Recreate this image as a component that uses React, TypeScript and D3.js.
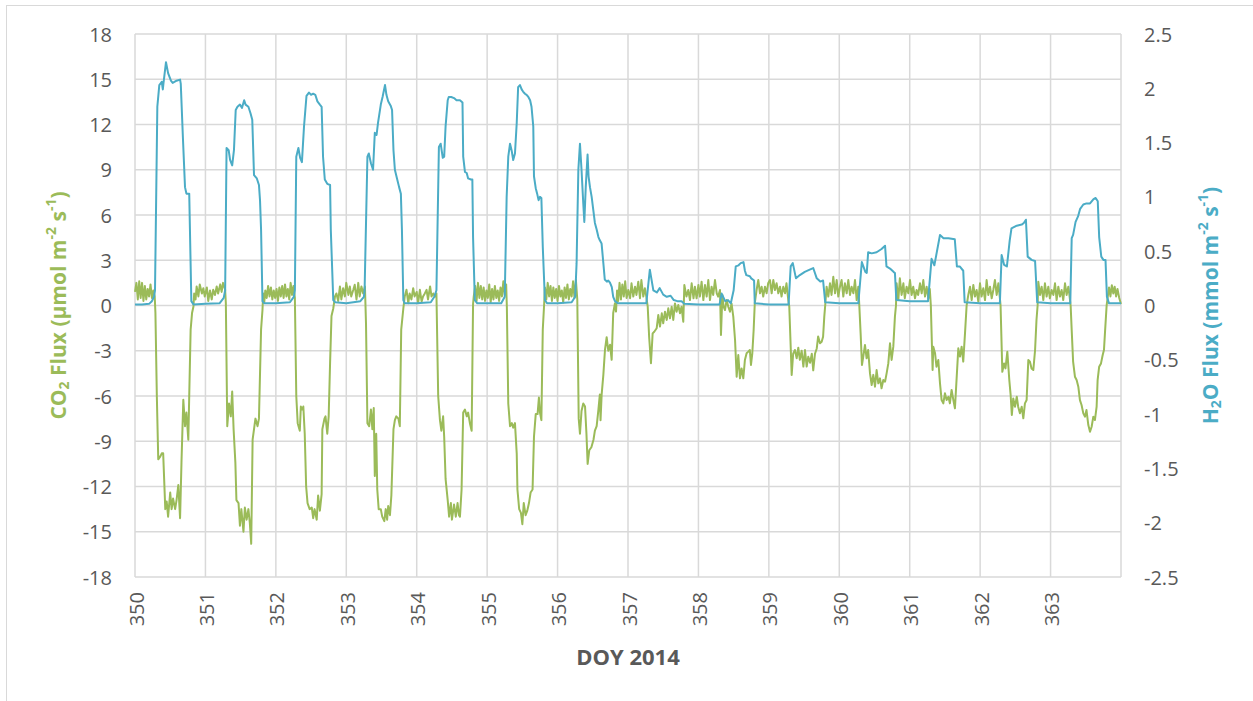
import React, { useEffect, useRef } from "react";
import * as d3 from "d3";

// CO2 flux, µmol m-2 s-1 as [DOY, value]
const CO2: [number, number][] = [
  [350.00,0.9],[350.02,1.5],[350.04,0.4],[350.06,1.6],[350.08,0.5],[350.10,1.5],[350.12,0.3],[350.14,1.3],[350.16,0.4],[350.18,1.1],[350.20,0.6],[350.22,1.4],[350.24,0.5],[350.26,1.0],[350.28,0.6],
  [350.29,-0.5],[350.31,-6.0],[350.33,-10.2],[350.36,-10.0],[350.38,-9.8],[350.40,-9.8],[350.43,-13.5],[350.45,-13.0],[350.47,-14.0],[350.50,-12.4],[350.52,-13.5],[350.54,-12.8],[350.57,-13.5],[350.59,-12.9],[350.615,-11.9],[350.64,-14.1],[350.66,-10.4],[350.686,-6.25],[350.71,-8.0],[350.73,-7.1],[350.757,-8.9],[350.77,-6.0],[350.79,-1.6],[350.81,-0.5],
  [350.83,-0.07],[350.84,0.8],[350.86,0.4],[350.875,1.26],[350.90,0.6],[350.92,1.4],[350.95,0.8],[350.97,1.15],[350.99,0.6],[351.02,1.2],[351.04,0.3],[351.065,1.0],[351.09,0.4],[351.11,1.04],[351.135,0.7],[351.16,1.26],[351.18,0.8],[351.21,1.4],[351.23,0.9],[351.25,1.5],[351.28,1.04],
  [351.29,0.15],[351.31,-8.0],[351.335,-6.5],[351.36,-7.35],[351.38,-5.7],[351.40,-8.2],[351.425,-10.4],[351.44,-12.9],[351.47,-13.1],[351.49,-14.6],[351.51,-13.5],[351.54,-15.0],[351.56,-13.4],[351.585,-14.2],[351.61,-13.5],[351.63,-14.4],[351.65,-15.8],[351.67,-8.9],[351.69,-8.2],[351.71,-7.5],[351.74,-8.0],[351.76,-7.5],[351.79,-1.6],[351.81,-0.3],
  [351.82,0.8],[351.835,0.2],[351.85,1.0],[351.87,0.5],[351.89,1.3],[351.91,0.6],[351.93,1.2],[351.95,0.4],[351.97,1.0],[351.99,0.5],[352.01,1.1],[352.03,0.3],[352.05,1.2],[352.07,0.6],[352.09,1.3],[352.11,0.5],[352.13,1.4],[352.15,0.6],[352.17,1.1],[352.19,0.4],[352.21,1.5],[352.23,0.7],[352.25,1.3],[352.27,0.5],
  [352.29,-6.0],[352.31,-7.8],[352.34,-8.3],[352.355,-6.7],[352.375,-6.9],[352.39,-6.7],[352.41,-8.5],[352.43,-12.0],[352.45,-13.1],[352.48,-13.5],[352.51,-13.4],[352.53,-14.1],[352.55,-13.5],[352.58,-14.2],[352.60,-12.6],[352.625,-13.6],[352.65,-12.5],[352.66,-8.2],[352.69,-7.5],[352.705,-7.35],[352.73,-8.5],[352.75,-7.35],[352.77,-3.8],[352.79,-0.7],[352.815,-0.2],
  [352.84,0.6],[352.86,0.8],[352.885,0.3],[352.91,1.26],[352.93,0.4],[352.955,1.15],[352.98,0.6],[353.00,1.5],[353.03,0.7],[353.05,1.26],[353.07,0.6],[353.10,1.04],[353.12,1.37],[353.145,0.4],[353.17,1.5],[353.19,0.6],[353.215,1.26],[353.24,0.8],[353.265,1.26],
  [353.28,-1.2],[353.30,-7.8],[353.325,-8.0],[353.35,-6.9],[353.37,-8.2],[353.39,-6.8],[353.405,-11.3],[353.425,-8.5],[353.44,-12.2],[353.46,-13.5],[353.49,-13.5],[353.51,-14.0],[353.54,-14.3],[353.56,-13.5],[353.58,-14.2],[353.595,-13.3],[353.62,-13.9],[353.64,-12.6],[353.67,-8.2],[353.69,-7.6],[353.71,-7.35],[353.74,-7.5],[353.76,-8.0],[353.78,-1.6],[353.81,-0.2],
  [353.83,0.6],[353.855,1.04],[353.88,0.15],[353.90,0.8],[353.925,0.4],[353.95,1.15],[353.97,0.6],[354.00,0.9],[354.02,0.15],[354.045,1.04],[354.07,0.26],[354.09,0.6],[354.115,0.8],[354.14,1.04],[354.16,0.4],[354.19,1.26],[354.21,0.6],[354.235,0.8],[354.26,0.6],[354.28,0.8],
  [354.305,-6.0],[354.33,-7.6],[354.35,-8.3],[354.375,-7.35],[354.39,-8.7],[354.41,-11.5],[354.44,-12.9],[354.46,-14.0],[354.485,-13.1],[354.50,-14.2],[354.53,-13.2],[354.555,-14.0],[354.58,-13.1],[354.60,-13.9],[354.614,-14.0],[354.637,-12.2],[354.66,-7.1],[354.685,-6.9],[354.71,-7.35],[354.73,-7.1],[354.755,-7.8],[354.78,-8.3],[354.80,0.1],
  [354.81,0.6],[354.83,1.3],[354.85,0.3],[354.87,1.5],[354.89,0.5],[354.91,1.3],[354.93,0.4],[354.95,1.2],[354.97,0.3],[354.99,1.0],[355.01,0.5],[355.03,1.4],[355.05,0.2],[355.07,1.1],[355.09,0.4],[355.11,1.3],[355.13,0.5],[355.15,1.0],[355.17,0.3],[355.19,1.2],[355.21,0.6],[355.23,1.6],[355.25,0.7],[355.27,1.4],
  [355.28,-0.1],[355.30,-6.5],[355.325,-8.0],[355.35,-7.8],[355.37,-8.1],[355.395,-7.8],[355.42,-9.8],[355.43,-12.2],[355.455,-13.5],[355.48,-13.75],[355.50,-14.5],[355.52,-13.1],[355.546,-13.9],[355.57,-13.6],[355.594,-13.1],[355.617,-12.4],[355.645,-12.2],[355.665,-8.7],[355.69,-7.2],[355.716,-7.2],[355.735,-6.1],[355.75,-7.1],[355.77,-7.6],[355.79,-1.6],[355.81,0.15],
  [355.82,1.2],[355.84,0.4],[355.86,1.5],[355.88,0.6],[355.90,1.3],[355.92,0.3],[355.94,1.2],[355.96,0.5],[355.98,1.1],[356.00,0.3],[356.02,1.3],[356.04,0.6],[356.06,1.0],[356.08,0.2],[356.10,1.2],[356.12,0.5],[356.14,1.4],[356.16,0.4],[356.18,1.1],[356.20,0.6],[356.22,1.6],[356.24,0.5],[356.26,1.7],
  [356.28,0.4],[356.30,-7.5],[356.318,-8.5],[356.34,-7.0],[356.365,-6.5],[356.39,-6.7],[356.41,-8.5],[356.427,-10.5],[356.45,-9.6],[356.48,-9.4],[356.51,-8.9],[356.53,-8.3],[356.555,-8.0],[356.58,-6.9],[356.60,-5.9],[356.61,-7.6],[356.626,-5.9],[356.65,-4.6],[356.673,-2.95],[356.697,-2.1],[356.72,-3.0],[356.745,-2.6],[356.768,-3.6],[356.79,-0.5],[356.815,0.15],
  [356.83,-0.4],[356.845,1.0],[356.86,0.3],[356.88,1.5],[356.90,0.4],[356.92,1.4],[356.94,0.6],[356.96,1.6],[356.98,0.5],[357.004,1.03],[357.03,0.48],[357.05,1.47],[357.075,0.59],[357.10,1.25],[357.12,0.7],[357.146,1.58],[357.17,0.48],[357.19,1.69],[357.217,0.59],[357.24,1.14],[357.26,0.59],
  [357.28,-0.08],[357.30,-2.07],[357.326,-3.83],[357.35,-1.85],[357.373,-1.74],[357.407,-1.51],[357.43,-0.63],[357.454,-1.4],[357.48,-0.52],[357.50,-1.18],[357.525,-0.41],[357.55,-0.96],[357.572,-0.19],[357.596,-0.85],[357.62,-0.08],[357.643,-0.96],[357.667,0.14],[357.69,-0.41],[357.714,0.03],[357.738,-0.52],[357.76,-0.08],[357.785,-1.07],
  [357.80,1.36],[357.83,0.59],[357.856,1.03],[357.88,0.36],[357.904,1.47],[357.93,0.48],[357.95,1.25],[357.974,0.48],[358.00,1.36],[358.02,0.59],[358.045,1.58],[358.07,0.36],[358.093,1.36],[358.117,0.59],[358.14,1.69],[358.164,0.36],[358.187,1.25],[358.21,0.7],[358.235,1.69],[358.26,0.81],[358.28,0.59],[358.306,1.03],
  [358.32,-1.96],[358.34,0.7],[358.357,-0.08],[358.377,-0.3],[358.40,0.36],[358.424,-0.08],[358.448,-0.41],[358.47,0.14],[358.495,-0.74],[358.52,-2.29],[358.543,-4.72],[358.566,-3.28],[358.59,-4.83],[358.613,-4.17],[358.637,-4.83],[358.66,-3.61],[358.684,-3.17],[358.708,-3.06],[358.73,-2.95],[358.746,-3.94],[358.765,-3.17],[358.784,-1.62],[358.80,0.14],
  [358.826,1.03],[358.85,1.69],[358.874,0.81],[358.897,1.25],[358.92,0.59],[358.945,1.25],[358.968,0.81],[358.99,1.47],[359.016,1.69],[359.04,0.81],[359.063,1.69],[359.087,1.03],[359.11,1.47],[359.134,0.81],[359.158,1.25],[359.18,0.59],[359.205,1.25],[359.23,0.81],[359.25,1.47],[359.276,0.36],
  [359.29,-0.08],[359.31,-2.73],[359.324,-4.6],[359.345,-3.2],[359.37,-2.95],[359.395,-3.5],[359.418,-2.8],[359.44,-3.6],[359.466,-3.0],[359.49,-4.05],[359.513,-2.95],[359.537,-4.05],[359.56,-3.4],[359.585,-3.8],[359.61,-3.2],[359.63,-4.3],[359.655,-3.2],[359.68,-2.85],[359.70,-2.05],[359.726,-2.5],[359.75,-2.4],[359.77,-2.07],[359.787,-0.74],[359.80,0.0],
  [359.82,1.25],[359.844,0.59],[359.868,1.47],[359.89,0.7],[359.915,1.9],[359.94,0.81],[359.963,1.69],[359.986,0.59],[360.01,1.25],[360.033,1.69],[360.057,0.59],[360.08,1.47],[360.105,0.81],[360.128,1.69],[360.152,0.7],[360.175,1.25],[360.2,0.81],[360.223,1.69],[360.247,0.36],[360.27,1.25],
  [360.284,0.03],[360.303,-1.85],[360.322,-3.95],[360.34,-3.4],[360.365,-2.62],[360.388,-3.5],[360.41,-2.95],[360.436,-4.5],[360.46,-5.27],[360.483,-4.6],[360.507,-5.38],[360.53,-4.28],[360.554,-5.16],[360.578,-4.83],[360.60,-5.49],[360.625,-4.94],[360.65,-5.05],[360.672,-4.5],[360.696,-3.84],[360.72,-2.51],[360.743,-3.61],[360.767,-2.73],[360.79,-0.74],[360.805,0.0],
  [360.814,1.47],[360.838,0.36],[360.86,1.8],[360.885,0.7],[360.91,1.47],[360.93,0.48],[360.956,1.25],[360.98,0.81],[361.004,1.69],[361.027,0.7],[361.05,1.25],[361.075,0.48],[361.098,1.03],[361.12,0.7],[361.146,1.47],[361.17,0.81],[361.193,1.69],[361.217,0.59],[361.24,1.25],[361.264,0.48],[361.285,1.1],
  [361.30,0.0],[361.325,-4.28],[361.335,-2.73],[361.36,-3.17],[361.38,-4.06],[361.406,-3.61],[361.43,-5.16],[361.453,-6.27],[361.477,-6.49],[361.50,-5.82],[361.524,-6.27],[361.55,-6.05],[361.57,-6.49],[361.595,-5.6],[361.62,-6.27],[361.642,-6.82],[361.666,-4.83],[361.69,-2.84],[361.714,-3.39],[361.737,-2.73],[361.76,-3.72],[361.785,-1.85],[361.808,0.0],
  [361.832,0.7],[361.856,1.25],[361.88,0.36],[361.903,1.36],[361.927,0.59],[361.95,1.03],[361.974,0.25],[361.998,1.47],[362.02,0.59],[362.045,1.14],[362.069,0.36],[362.092,1.69],[362.116,0.7],[362.14,1.25],[362.164,0.48],[362.187,1.03],[362.21,1.69],[362.235,0.7],[362.258,1.47],[362.28,0.5],
  [362.29,0.0],[362.315,-4.4],[362.34,-3.84],[362.36,-4.17],[362.386,-3.06],[362.414,-4.94],[362.433,-5.93],[362.45,-7.26],[362.47,-6.16],[362.495,-6.71],[362.52,-6.05],[362.54,-6.71],[362.565,-7.15],[362.59,-6.71],[362.613,-7.48],[362.636,-6.49],[362.66,-6.27],[362.684,-3.61],[362.707,-3.72],[362.73,-4.17],[362.755,-4.28],[362.78,-2.95],[362.80,-0.96],[362.816,0.0],
  [362.826,1.58],[362.85,0.7],[362.873,1.25],[362.897,0.36],[362.92,1.47],[362.944,0.59],[362.968,1.25],[362.99,0.48],[363.015,1.03],[363.04,0.7],[363.063,1.47],[363.086,0.36],[363.11,1.25],[363.134,0.59],[363.157,1.03],[363.18,0.36],[363.205,1.47],[363.228,0.7],[363.252,1.25],[363.27,0.6],
  [363.285,0.0],[363.30,-1.63],[363.32,-3.72],[363.346,-4.72],[363.37,-4.94],[363.394,-5.38],[363.417,-6.27],[363.44,-6.6],[363.465,-7.15],[363.488,-7.37],[363.51,-6.93],[363.536,-7.93],[363.56,-8.37],[363.583,-8.04],[363.607,-7.37],[363.63,-7.59],[363.654,-6.71],[363.668,-4.94],[363.69,-4.06],[363.716,-3.84],[363.74,-3.28],[363.758,-2.95],[363.772,-1.85],[363.796,0.0],
  [363.81,0.5],[363.83,1.2],[363.85,0.6],[363.87,1.35],[363.89,0.8],[363.91,1.25],[363.93,0.6],[363.95,1.1],[363.975,0.5],[364.0,0.1],
];

// H2O flux, mmol m-2 s-1, [DOY, value]
const H2O: [number, number][] = [
  [350.00,0.01],[350.10,0.01],[350.20,0.015],[350.24,0.04],[350.27,0.08],[350.284,0.14],[350.317,1.83],[350.345,2.03],[350.38,2.06],[350.395,1.99],[350.405,2.05],[350.44,2.24],[350.47,2.14],[350.51,2.07],[350.535,2.05],[350.59,2.07],[350.64,2.08],[350.65,2.04],[350.68,1.55],[350.71,1.09],[350.73,1.03],[350.77,1.03],[350.78,0.70],[350.80,0.04],[350.83,0.01],
  [351.0,0.015],[351.2,0.02],[351.26,0.07],
  [351.28,0.14],[351.30,1.45],[351.33,1.43],[351.35,1.34],[351.38,1.29],[351.405,1.43],[351.43,1.80],[351.455,1.83],[351.49,1.85],[351.52,1.82],[351.55,1.89],[351.57,1.85],[351.61,1.83],[351.64,1.77],[351.665,1.71],[351.69,1.20],[351.73,1.17],[351.76,1.11],[351.775,0.97],[351.79,0.70],[351.81,0.04],[351.835,0.02],
  [352.0,0.02],[352.2,0.03],[352.255,0.08],
  [352.27,0.14],[352.29,1.37],[352.32,1.45],[352.345,1.36],[352.37,1.32],[352.40,1.65],[352.435,1.93],[352.47,1.96],[352.50,1.94],[352.53,1.95],[352.56,1.94],[352.59,1.88],[352.625,1.85],[352.65,1.83],[352.67,1.37],[352.695,1.16],[352.73,1.12],[352.77,1.11],[352.78,0.70],[352.815,0.05],[352.84,0.03],
  [353.0,0.02],[353.2,0.04],[353.25,0.08],
  [353.26,0.14],[353.30,1.37],[353.32,1.40],[353.35,1.31],[353.38,1.25],[353.405,1.59],[353.43,1.57],[353.45,1.68],[353.49,1.85],[353.515,1.92],[353.55,2.03],[353.57,1.94],[353.595,1.88],[353.63,1.84],[353.65,1.80],[353.67,1.43],[353.69,1.25],[353.72,1.17],[353.75,1.09],[353.775,1.03],[353.79,0.70],[353.81,0.05],[353.83,0.02],
  [354.0,0.02],[354.2,0.03],[354.25,0.08],
  [354.28,0.14],[354.315,1.46],[354.34,1.49],[354.37,1.36],[354.39,1.37],[354.41,1.65],[354.44,1.89],[354.455,1.92],[354.49,1.92],[354.53,1.91],[354.565,1.89],[354.614,1.89],[354.65,1.87],[354.66,1.37],[354.685,1.23],[354.71,1.22],[354.73,1.17],[354.77,1.16],[354.79,1.16],[354.80,0.63],[354.825,0.05],[354.86,0.02],
  [355.0,0.02],[355.2,0.02],[355.25,0.08],
  [355.277,1.0],[355.30,1.37],[355.325,1.49],[355.35,1.42],[355.37,1.34],[355.395,1.40],[355.42,1.68],[355.44,2.01],[355.466,2.03],[355.49,1.99],[355.51,1.97],[355.537,1.95],[355.56,1.94],[355.585,1.92],[355.61,1.89],[355.63,1.83],[355.655,1.65],[355.665,1.19],[355.69,1.08],[355.71,1.03],[355.73,0.97],[355.75,1.0],[355.77,0.99],[355.79,0.54],[355.82,0.05],[355.85,0.02],
  [356.0,0.02],[356.2,0.03],[356.25,0.08],
  [356.27,0.39],[356.295,1.25],[356.318,1.49],[356.34,1.25],[356.365,0.94],[356.38,0.77],[356.40,1.09],[356.426,1.39],[356.44,1.19],[356.46,1.09],[356.484,1.0],[356.507,0.88],[356.53,0.76],[356.555,0.70],[356.58,0.63],[356.60,0.60],[356.625,0.57],[356.65,0.39],[356.67,0.24],[356.70,0.22],[356.72,0.23],[356.744,0.21],[356.77,0.17],[356.79,0.08],[356.815,0.04],[356.86,0.02],
  [357.0,0.02],[357.26,0.02],
  [357.31,0.33],[357.36,0.14],[357.41,0.12],[357.45,0.16],[357.50,0.10],[357.55,0.08],[357.605,0.09],[357.65,0.05],[357.70,0.04],[357.76,0.04],[357.80,0.015],
  [358.0,0.01],[358.30,0.01],
  [358.33,0.11],[358.38,0.04],[358.42,0.05],[358.46,0.02],[358.50,0.14],[358.53,0.36],[358.57,0.37],[358.60,0.39],[358.64,0.40],[358.66,0.32],[358.68,0.28],[358.73,0.27],[358.75,0.25],[358.79,0.23],[358.80,0.02],
  [359.0,0.01],[359.28,0.01],
  [359.31,0.36],[359.34,0.39],[359.385,0.25],[359.44,0.28],[359.51,0.31],[359.58,0.33],[359.63,0.345],[359.68,0.25],[359.73,0.22],[359.77,0.23],[359.80,0.03],
  [360.0,0.02],[360.27,0.02],
  [360.32,0.40],[360.37,0.31],[360.39,0.30],[360.41,0.49],[360.46,0.48],[360.53,0.49],[360.60,0.52],[360.65,0.55],[360.67,0.36],[360.72,0.34],[360.77,0.31],[360.79,0.30],[360.81,0.05],
  [361.0,0.04],[361.26,0.04],
  [361.31,0.43],[361.33,0.40],[361.35,0.37],[361.43,0.65],[361.48,0.62],[361.55,0.62],[361.64,0.61],[361.67,0.36],[361.71,0.36],[361.76,0.32],[361.78,0.03],
  [362.0,0.02],[362.28,0.02],
  [362.305,0.465],[362.34,0.375],[362.38,0.36],[362.42,0.60],[362.445,0.71],[362.52,0.735],[362.59,0.745],[362.62,0.76],[362.65,0.79],[362.675,0.45],[362.73,0.42],[362.78,0.41],[362.81,0.03],
  [363.0,0.02],[363.28,0.02],
  [363.30,0.62],[363.32,0.65],[363.355,0.77],[363.39,0.82],[363.42,0.89],[363.465,0.93],[363.51,0.94],[363.56,0.94],[363.61,0.98],[363.64,0.99],[363.67,0.96],[363.69,0.63],[363.72,0.45],[363.75,0.42],[363.78,0.42],[363.80,0.08],[363.83,0.02],[364.0,0.02],
];

const X_TICKS = [350, 351, 352, 353, 354, 355, 356, 357, 358, 359, 360, 361, 362, 363];
const X_GRID = [350, 351, 352, 353, 354, 355, 356, 357, 358, 359, 360, 361, 362, 363, 364];
const CO2_TICKS = [18, 15, 12, 9, 6, 3, 0, -3, -6, -9, -12, -15, -18];
const H2O_TICKS = [2.5, 2, 1.5, 1, 0.5, 0, -0.5, -1, -1.5, -2, -2.5];

const W = 1253, H = 701;
const plot = { left: 135, right: 1121, top: 34, bottom: 577 };
const GREEN = "#9BBB59", BLUE = "#4BACC6", GRID = "#D9D9D9", TXT = "#595959";
const FONT = "'Open Sans', 'Noto Sans', sans-serif";

export default function App() {
  const ref = useRef<SVGSVGElement>(null);

  useEffect(() => {
    const svg = d3.select(ref.current);
    svg.selectAll("*").remove();

    const x = d3.scaleLinear().domain([350, 364]).range([plot.left, plot.right]);
    const yL = d3.scaleLinear().domain([-18, 18]).range([plot.bottom, plot.top]);
    const yR = d3.scaleLinear().domain([-2.5, 2.5]).range([plot.bottom, plot.top]);

    svg.append("rect").attr("width", W).attr("height", H).attr("fill", "#fff");
    svg.append("rect")
      .attr("x", 6.5).attr("y", 5.5).attr("width", 1300).attr("height", 800)
      .attr("fill", "none").attr("stroke", GRID).attr("stroke-width", 1);

    // grid
    const grid = svg.append("g").attr("stroke", GRID).attr("stroke-width", 1.5);
    grid.selectAll("line.h").data(CO2_TICKS).join("line")
      .attr("x1", plot.left).attr("x2", plot.right)
      .attr("y1", d => yL(d)).attr("y2", d => yL(d));
    grid.selectAll("line.v").data(X_GRID).join("line")
      .attr("class", "v")
      .attr("x1", d => x(d)).attr("x2", d => x(d))
      .attr("y1", plot.top).attr("y2", plot.bottom);

    // tick labels
    svg.append("g").selectAll("text").data(CO2_TICKS).join("text")
      .attr("x", 112).attr("y", d => yL(d))
      .attr("text-anchor", "end").attr("dominant-baseline", "central")
      .style("font", `20px ${FONT}`).attr("fill", TXT)
      .text(d => String(d));

    svg.append("g").selectAll("text").data(H2O_TICKS).join("text")
      .attr("x", 1144).attr("y", d => yR(d))
      .attr("text-anchor", "start").attr("dominant-baseline", "central")
      .style("font", `20px ${FONT}`).attr("fill", TXT)
      .text(d => String(d));

    svg.append("g").selectAll("text").data(X_TICKS).join("text")
      .attr("transform", d => `translate(${x(d) + 1},592) rotate(-90)`)
      .attr("text-anchor", "end").attr("dominant-baseline", "central")
      .style("font", `20px ${FONT}`).attr("fill", TXT)
      .text(d => String(d));

    // lines
    const lineL = d3.line<[number, number]>().x(d => x(d[0])).y(d => yL(d[1]));
    const lineR = d3.line<[number, number]>().x(d => x(d[0])).y(d => yR(d[1]));
    svg.append("path").datum(CO2).attr("d", lineL)
      .attr("fill", "none").attr("stroke", GREEN).attr("stroke-width", 2).attr("stroke-linejoin", "round");
    svg.append("path").datum(H2O).attr("d", lineR)
      .attr("fill", "none").attr("stroke", BLUE).attr("stroke-width", 2).attr("stroke-linejoin", "round");

    // axis titles
    svg.append("text")
      .attr("x", (plot.left + plot.right) / 2).attr("y", 656)
      .attr("text-anchor", "middle").attr("dominant-baseline", "central")
      .style("font", `bold 22px ${FONT}`).attr("fill", TXT)
      .text("DOY 2014");

    const title = (cx: number, color: string, first: string, rest: string) => {
      const t = svg.append("text")
        .attr("transform", `translate(${cx},${(plot.top + plot.bottom) / 2}) rotate(-90)`)
        .attr("text-anchor", "middle").attr("dominant-baseline", "central")
        .style("font", `bold 21px ${FONT}`).attr("fill", color);
      t.append("tspan").text(first);
      t.append("tspan").attr("font-size", 14).attr("dy", 5).text("2");
      t.append("tspan").attr("dy", -5).text(rest + " m");
      t.append("tspan").attr("font-size", 14).attr("dy", -8).text("-2");
      t.append("tspan").attr("dy", 8).text(" s");
      t.append("tspan").attr("font-size", 14).attr("dy", -8).text("-1");
      t.append("tspan").attr("dy", 8).text(")");
    };
    title(58, GREEN, "CO", " Flux (µmol");
    title(1210, BLUE, "H", "O Flux (mmol");
  }, []);

  return (
    <svg ref={ref} width={W} height={H}
      style={{ position: "absolute", left: 0, top: 0, display: "block" }} />
  );
}
